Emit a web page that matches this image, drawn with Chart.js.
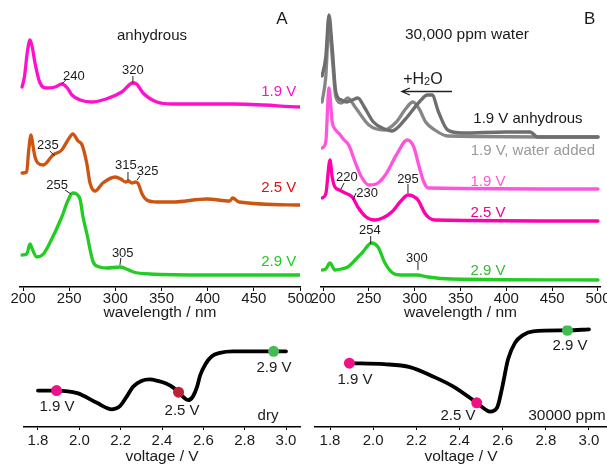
<!DOCTYPE html>
<html>
<head>
<meta charset="utf-8">
<script src="https://cdn.jsdelivr.net/npm/chart.js@4"></script>
<style>
body { margin:0; width:607px; height:466px; overflow:hidden; position:relative; background:#fff; }
canvas { position:absolute; }
</style>
</head>
<body>
<canvas id="cA" width="315" height="330" style="left:0;top:0"></canvas>
<canvas id="cB" width="320" height="330" style="left:303px;top:0"></canvas>
<canvas id="cC" width="315" height="146" style="left:0;top:320px"></canvas>
<canvas id="cD" width="320" height="146" style="left:303px;top:320px"></canvas>
<script>
// tick labels
var wavelengthTicks = [200, 250, 300, 350, 400, 450, 500];
var voltageTicks = [1.8, 2.0, 2.2, 2.4, 2.6, 2.8, 3.0];

// panel A, anhydrous (stacked absorbance, arbitrary units)
var nmA19  = [199, 201.5, 205, 207.6, 210, 213, 218, 226, 235, 242, 248, 253, 262, 274, 290, 307, 319, 323, 330, 345, 362, 427, 500];
var absA19 = [2.00, 2.10, 2.37, 2.47, 2.40, 2.24, 2.05, 1.99, 2.00, 2.03, 1.99, 1.92, 1.87, 1.85, 1.88, 1.95, 2.04, 2.03, 1.94, 1.85, 1.83, 1.83, 1.80];
var nmA25  = [199, 204, 206, 208.7, 211, 213, 216, 222, 232.5, 242, 248.7, 254, 259.6, 264, 269, 272.6, 278, 286.5, 300, 306, 311, 314, 318, 322, 325, 329, 334, 345, 362, 399, 424, 427, 434, 500];
var absA25 = [1.14, 1.15, 1.35, 1.52, 1.40, 1.30, 1.24, 1.22, 1.32, 1.37, 1.47, 1.53, 1.46, 1.42, 1.24, 1.04, 0.96, 1.04, 1.10, 1.08, 1.05, 1.06, 1.04, 1.05, 1.03, 0.93, 0.87, 0.85, 0.85, 0.88, 0.86, 0.89, 0.85, 0.82];
var nmA29  = [199, 204, 207.6, 210, 215, 222, 229, 242, 248, 253.8, 258, 262, 265, 269, 276, 283, 291, 305, 312, 319.5, 337, 400, 500];
var absA29 = [0.32, 0.33, 0.43, 0.38, 0.30, 0.33, 0.44, 0.70, 0.85, 0.94, 0.93, 0.87, 0.70, 0.54, 0.25, 0.20, 0.19, 0.20, 0.18, 0.15, 0.13, 0.12, 0.12];

// panel B, 30,000 ppm water
var nmBdry  = [199, 203, 206.5, 210, 214, 220, 226, 232, 238, 245, 255, 267, 275, 290, 305, 314, 319, 326, 336, 352, 400, 426, 434, 500];
var absBdry = [2.11, 2.30, 2.72, 2.40, 1.95, 1.87, 1.85, 1.87, 1.89, 1.80, 1.65, 1.58, 1.56, 1.68, 1.85, 1.92, 1.92, 1.75, 1.57, 1.54, 1.55, 1.55, 1.50, 1.50];
var nmBwet  = [199, 203, 206.5, 210, 214, 220, 227, 235, 250, 267, 280, 290, 298, 305, 312, 322, 336, 500];
var absBwet = [1.85, 2.10, 2.62, 2.30, 1.90, 1.84, 1.89, 1.80, 1.62, 1.57, 1.65, 1.78, 1.85, 1.78, 1.65, 1.57, 1.51, 1.50];
var nmB19  = [199, 203, 206.5, 210, 213, 218, 222, 228, 235, 242, 250, 258, 268, 280, 292, 299, 305, 310, 315, 500];
var absB19 = [1.39, 1.45, 1.99, 1.65, 1.58, 1.53, 1.48, 1.42, 1.25, 1.10, 1.02, 1.03, 1.12, 1.32, 1.47, 1.40, 1.20, 1.05, 0.99, 0.98];
var nmB25  = [199, 203, 207.6, 210, 213, 218, 224, 229, 232.7, 238, 247, 256.7, 265, 275, 285, 292.7, 298, 303.6, 311, 316, 322, 500];
var absB25 = [0.89, 0.93, 1.27, 1.10, 1.00, 0.97, 0.94, 0.92, 0.89, 0.80, 0.70, 0.67, 0.69, 0.75, 0.86, 0.92, 0.91, 0.87, 0.74, 0.69, 0.67, 0.66];
var nmB29  = [199, 203, 207.6, 213, 220, 227, 235, 242.5, 253, 260, 267.6, 276, 285, 293, 302.5, 314.5, 340, 500];
var absB29 = [0.17, 0.18, 0.24, 0.17, 0.18, 0.20, 0.27, 0.34, 0.44, 0.40, 0.24, 0.14, 0.12, 0.12, 0.12, 0.10, 0.08, 0.07];

// voltage profiles
var voltDry = [1.80, 1.89, 1.99, 2.085, 2.158, 2.18, 2.197, 2.23, 2.26, 2.30, 2.34, 2.38, 2.42, 2.455, 2.48, 2.50, 2.526, 2.55, 2.57, 2.584, 2.61, 2.64, 2.68, 2.743, 3.00];
var sigDry  = [3.77, 3.77, 3.50, 2.50, 1.83, 1.93, 2.17, 3.17, 4.17, 4.77, 4.93, 4.77, 4.50, 4.07, 3.60, 3.17, 2.77, 3.17, 4.17, 5.30, 6.50, 7.30, 7.67, 7.83, 7.83];
var voltWet = [1.89, 2.05, 2.17, 2.28, 2.37, 2.48, 2.528, 2.541, 2.574, 2.597, 2.625, 2.657, 2.694, 2.741, 2.90, 3.00];
var sigWet  = [6.6, 6.5, 6.2, 5.2, 4.2, 2.5, 1.7, 1.6, 2.0, 4.0, 7.0, 8.7, 9.5, 9.9, 10.0, 10.1];
var dotVoltDry = [1.89, 2.48, 2.94];
var dotSigDry  = [3.77, 3.60, 7.83];
var dotVoltWet = [1.89, 2.48, 2.90];
var dotSigWet  = [6.6, 2.5, 10.0];

var FONT = '"Liberation Sans", Arial, sans-serif';

var notesPlugin = {
    id: 'notes',
    afterDatasetsDraw: function(chart, args, opts) {
        var ctx = chart.ctx, sx = chart.scales.x, sy = chart.scales.y;
        var items = opts.items || [];
        for (var i = 0; i < items.length; i++) {
            var n = items[i];
            ctx.save();
            ctx.strokeStyle = '#222';
            ctx.lineWidth = 1;
            if (n.line) {
                ctx.beginPath();
                ctx.moveTo(sx.getPixelForValue(n.line[0]), sy.getPixelForValue(n.line[1]));
                ctx.lineTo(sx.getPixelForValue(n.line[2]), sy.getPixelForValue(n.line[3]));
                ctx.stroke();
            }
            if (n.arrow) {
                var ax1 = sx.getPixelForValue(n.arrow[0]), ax2 = sx.getPixelForValue(n.arrow[1]);
                var ay = Math.round(sy.getPixelForValue(n.arrow[2])) + 0.5;
                ctx.lineWidth = 1.3;
                ctx.beginPath();
                ctx.moveTo(ax1, ay); ctx.lineTo(ax2, ay);
                ctx.moveTo(ax2 + 8, ay - 3.5); ctx.lineTo(ax2, ay); ctx.lineTo(ax2 + 8, ay + 3.5);
                ctx.stroke();
            }
            var px = sx.getPixelForValue(n.x), py = sy.getPixelForValue(n.y);
            ctx.fillStyle = n.color || '#1a1a1a';
            ctx.textBaseline = 'middle';
            if (n.parts) {
                var w = 0, j;
                for (j = 0; j < n.parts.length; j++) {
                    ctx.font = n.parts[j][1] + 'px ' + FONT;
                    w += ctx.measureText(n.parts[j][0]).width;
                }
                var cx = px - w / 2;
                ctx.textAlign = 'left';
                for (j = 0; j < n.parts.length; j++) {
                    ctx.font = n.parts[j][1] + 'px ' + FONT;
                    ctx.fillText(n.parts[j][0], cx, py + n.parts[j][2]);
                    cx += ctx.measureText(n.parts[j][0]).width;
                }
            } else if (n.text) {
                ctx.font = (n.size || 13) + 'px ' + FONT;
                ctx.textAlign = n.align || 'center';
                ctx.fillText(n.text, px, py);
            }
            ctx.restore();
        }
    }
};

function toPoints(xs, ys)
{
    var pts = [];
    for (var i = 0; i < xs.length; i++) pts.push({x: xs[i], y: ys[i]});
    return pts;
}

function trace(xs, ys, color, width)
{
    return {
        data: toPoints(xs, ys),
        borderColor: color,
        borderWidth: width || 3.3,
        pointRadius: 0,
        cubicInterpolationMode: 'monotone',
        borderJoinStyle: 'round',
        borderCapStyle: 'round',
        fill: false
    };
}

function baseOptions(o)
{
    return {
        responsive: false,
        animation: false,
        devicePixelRatio: 1,
        layout: { padding: o.pad },
        plugins: { legend: { display: false }, tooltip: { enabled: false }, notes: { items: o.notes } },
        scales: {
            x: {
                type: 'linear',
                min: o.xmin,
                max: o.xmax,
                afterBuildTicks: function(ax) { ax.ticks = o.ticks.map(function(v) { return {value: v}; }); },
                afterFit: function(s) { s.height = o.axisHeight; },
                ticks: {
                    autoSkip: false, maxRotation: 0, color: '#1a1a1a', padding: o.tickPad,
                    font: { family: FONT, size: 15, lineHeight: 1 },
                    callback: o.fmt
                },
                grid: { drawOnChartArea: false, drawTicks: true, tickLength: o.tickLen, color: '#000', lineWidth: 1 },
                border: { display: true, color: '#000', width: 1.5 },
                title: { display: true, text: o.title, color: '#1a1a1a', font: { family: FONT, size: 15.5, lineHeight: 1.2 }, padding: { top: 0, bottom: o.titlePad } }
            },
            y: { display: false, min: o.ymin, max: o.ymax }
        }
    };
}

function spectrumChart(id, datasets, notes, xmin, xmax, pad)
{
    return new Chart(document.getElementById(id), {
        type: 'line',
        data: { datasets: datasets },
        options: baseOptions({
            pad: pad, notes: notes, xmin: xmin, xmax: xmax, ymin: 0, ymax: 2.8,
            ticks: wavelengthTicks, fmt: function(v) { return String(v); },
            axisHeight: 40, tickPad: 0, tickLen: 4, title: 'wavelength / nm', titlePad: 5
        }),
        plugins: [notesPlugin]
    });
}

function voltageChart(id, volts, sig, dv, ds, dotColors, notes, xmin, xmax, pad)
{
    var dots = {
        data: toPoints(dv, ds),
        showLine: false,
        pointRadius: 5.5,
        pointBorderWidth: 0,
        pointBackgroundColor: dotColors,
        borderColor: 'transparent'
    };
    return new Chart(document.getElementById(id), {
        type: 'line',
        data: { datasets: [dots, trace(volts, sig, '#000', 3.8)] },
        options: baseOptions({
            pad: pad, notes: notes, xmin: xmin, xmax: xmax, ymin: 0, ymax: 10.5,
            ticks: voltageTicks, fmt: function(v) { return v.toFixed(1); },
            axisHeight: 39, tickPad: 3, tickLen: 3, title: 'voltage / V', titlePad: 0
        }),
        plugins: [notesPlugin]
    });
}

var notesA = [
    {text: 'A', x: 480.5, y: 2.68, size: 17},
    {text: 'anhydrous', x: 339.7, y: 2.51, size: 15},
    {text: '1.9 V', x: 496, y: 1.95, size: 15, align: 'right', color: '#ff10cc'},
    {text: '2.5 V', x: 496, y: 0.99, size: 15, align: 'right', color: '#dd1111'},
    {text: '2.9 V', x: 496, y: 0.25, size: 15, align: 'right', color: '#22cc22'},
    {text: '240', x: 255, y: 2.11, line: [242, 2.03, 247.5, 2.08]},
    {text: '320', x: 319, y: 2.17, line: [319, 2.11, 319, 2.04]},
    {text: '235', x: 227, y: 1.42, line: [229, 1.36, 234.6, 1.31]},
    {text: '315', x: 311.5, y: 1.22, line: [313.7, 1.15, 313.7, 1.07]},
    {text: '325', x: 335, y: 1.16, line: [326.7, 1.11, 323.5, 1.07]},
    {text: '255', x: 237, y: 1.02, line: [245.5, 0.97, 252, 0.93]},
    {text: '305', x: 308, y: 0.34, line: [306, 0.29, 305, 0.22]}
];

var notesB = [
    {text: 'B', x: 491, y: 2.68, size: 17},
    {text: '30,000 ppm water', x: 357, y: 2.52, size: 15.5},
    {parts: [['+H', 16, 0], ['2', 11, 2], ['O', 16, 0]], x: 309, y: 2.07},
    {arrow: [340.7, 286, 1.96]},
    {text: '1.9 V anhydrous', x: 423.6, y: 1.68, size: 15},
    {text: '1.9 V, water added', x: 429, y: 1.36, size: 15, color: '#999'},
    {text: '1.9 V', x: 380, y: 1.05, size: 15, color: '#ff55dd'},
    {text: '2.5 V', x: 380, y: 0.74, size: 15, color: '#ee0099'},
    {text: '2.9 V', x: 380, y: 0.16, size: 15, color: '#33bb33'},
    {text: '220', x: 226, y: 1.10, line: [223, 1.04, 219.6, 0.98]},
    {text: '230', x: 248, y: 0.94, line: [236, 0.94, 232.7, 0.87]},
    {text: '295', x: 292.7, y: 1.08, line: [292.7, 1.03, 292.7, 0.94]},
    {text: '254', x: 251, y: 0.57, line: [252, 0.51, 252, 0.43]},
    {text: '300', x: 302.5, y: 0.29, line: [303.6, 0.25, 303.6, 0.17]}
];

var notesC = [
    {text: '1.9 V', x: 1.892, y: 2.1, size: 15},
    {text: '2.5 V', x: 2.497, y: 1.7, size: 15},
    {text: '2.9 V', x: 2.942, y: 6.1, size: 15},
    {text: 'dry', x: 2.913, y: 1.2, size: 15}
];

var notesD = [
    {text: '1.9 V', x: 1.916, y: 4.9, size: 15},
    {text: '2.5 V', x: 2.393, y: 1.2, size: 15},
    {text: '2.9 V', x: 2.912, y: 8.4, size: 15},
    {text: '30000 ppm', x: 2.898, y: 1.2, size: 15.5}
];

spectrumChart('cA', [
    trace(nmA19, absA19, '#ff10cc'),
    trace(nmA25, absA25, '#cc5511'),
    trace(nmA29, absA29, '#22cc22')
], notesA, 196.75, 500, {left: 20, right: 15, top: 7, bottom: 3});

spectrumChart('cB', [
    trace(nmBdry, absBdry, '#6e6e6e'),
    trace(nmBwet, absBwet, '#868686'),
    trace(nmB19, absB19, '#ff55dd'),
    trace(nmB25, absB25, '#ff00aa'),
    trace(nmB29, absB29, '#22cc22')
], notesB, 197.8, 502.2, {left: 18, right: 23, top: 7, bottom: 3});

voltageChart('cC', voltDry, sigDry, dotVoltDry, dotSigDry, ['#ee1188', '#bb2233', '#44bb55'],
    notesC, 1.7323, 3.0677, {left: 24, right: 15, top: 2, bottom: 0});

voltageChart('cD', voltWet, sigWet, dotVoltWet, dotSigWet, ['#ee1188', '#ee1188', '#44bb55'],
    notesD, 1.7305, 3.0834, {left: 12, right: 16, top: 2, bottom: 0});
</script>
</body>
</html>
